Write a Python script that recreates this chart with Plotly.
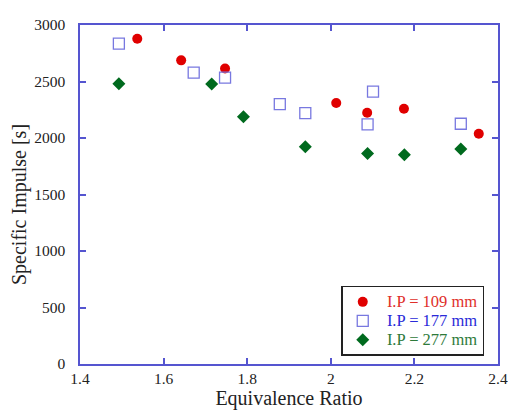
import plotly.graph_objects as go

red_x = [1.537, 1.642, 1.747, 2.013, 2.087, 2.175, 2.354]
red_y = [2879, 2687, 2615, 2310, 2224, 2259, 2037]
blue_x = [1.493, 1.672, 1.747, 1.878, 1.939, 2.101, 2.088, 2.311]
blue_y = [2836, 2578, 2534, 2299, 2221, 2411, 2121, 2126]
green_x = [1.493, 1.715, 1.791, 1.939, 2.088, 2.176, 2.311]
green_y = [2480, 2477, 2187, 1922, 1862, 1851, 1902]

x_ticks = [1.4, 1.6, 1.8, 2.0, 2.2, 2.4]
x_labels = ["1.4", "1.6", "1.8", "2", "2.2", "2.4"]
y_ticks = [0, 500, 1000, 1500, 2000, 2500, 3000]

axis_col = "#5555d0"
font = "Liberation Serif, Times New Roman, serif"


def legend_name(text, color):
    return f"<span style='color:{color};font-size:16.5px'>&nbsp;{text}</span>"


fig = go.Figure()
fig.add_trace(go.Scatter(x=red_x, y=red_y, mode="markers",
    name=legend_name("I.P = 109 mm", "#e0302a"),
    marker=dict(symbol="circle", size=10, color="#e00000")))
fig.add_trace(go.Scatter(x=blue_x, y=blue_y, mode="markers",
    name=legend_name("I.P = 177 mm", "#2a2ad8"),
    marker=dict(symbol="square-open", size=11, color="#7878e0", line=dict(width=1.3))))
fig.add_trace(go.Scatter(x=green_x, y=green_y, mode="markers",
    name=legend_name("I.P = 277 mm", "#2e7a3a"),
    marker=dict(symbol="diamond", size=10, color="#006a1e")))

fig.update_layout(
    width=508, height=406,
    margin=dict(l=71, r=11, t=8, b=50),
    plot_bgcolor="white", paper_bgcolor="white",
    font=dict(family=font, size=15, color="#222"),
    legend=dict(x=0.625, y=0.024, xanchor="left", yanchor="bottom",
                bordercolor="#222", borderwidth=1.5, bgcolor="white",
                font=dict(size=12, family=font), itemwidth=30,
                tracegroupgap=0),
)
fig.update_xaxes(range=[1.4, 2.4], tickvals=x_ticks, ticktext=x_labels,
    showgrid=False, zeroline=False, showline=True, linecolor=axis_col, linewidth=1.5,
    mirror="ticks", ticks="inside", tickcolor=axis_col, ticklen=6, tickwidth=1.5,
    title=dict(text="Equivalence Ratio", font=dict(size=20), standoff=2),
    tickfont=dict(size=15.5))
fig.update_yaxes(range=[0, 3000], tickvals=y_ticks,
    showgrid=False, zeroline=False, showline=True, linecolor=axis_col, linewidth=1.5,
    mirror="ticks", ticks="inside", tickcolor=axis_col, ticklen=6, tickwidth=1.5,
    title=dict(text="Specific Impulse [s]&nbsp;&nbsp;&nbsp;&nbsp;", font=dict(size=20), standoff=4),
    tickfont=dict(size=15.5), ticklabelstandoff=10)

fig.write_html("out.html")
